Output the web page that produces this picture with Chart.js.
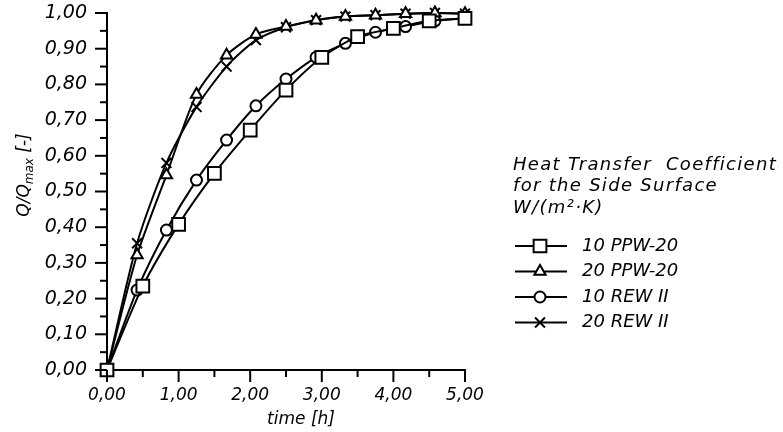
<!DOCTYPE html>
<html>
<head>
<meta charset="utf-8">
<script src="https://cdn.jsdelivr.net/npm/chart.js@4/dist/chart.umd.min.js"></script>
<style>
body { margin: 0; background: #fff; }
</style>
</head>
<body>
<canvas id="heatchart" width="783" height="432"></canvas>
<script>
// time points (h)
const timeFine = [0, 0.42, 0.83, 1.25, 1.67, 2.08, 2.5, 2.92, 3.33, 3.75, 4.17, 4.58, 5]
const timeHalf = [0, 0.5, 1, 1.5, 2, 2.5, 3, 3.5, 4, 4.5, 5]

// Q/Qmax
const ppw10 = [0, 0.235, 0.408, 0.551, 0.672, 0.784, 0.876, 0.934, 0.957, 0.978, 0.985]
const ppw20 = [0, 0.322, 0.546, 0.772, 0.882, 0.94, 0.962, 0.98, 0.99, 0.994, 0.998, 1.0, 0.998]
const rew10 = [0, 0.224, 0.392, 0.532, 0.644, 0.74, 0.815, 0.876, 0.915, 0.946, 0.962, 0.978, 0.985]
const rew20 = [0, 0.355, 0.58, 0.737, 0.85, 0.924, 0.96, 0.98, 0.99, 0.994, 0.998, 1.0, 0.998]

const seriesNames = ['10 PPW-20', '20 PPW-20', '10 REW II', '20 REW II']
const legendTitle = ['Heat Transfer  Coefficient', 'for the Side Surface', 'W/(m²·K)']

const fontFam = "'DejaVu Sans', sans-serif"

function pairs(xs, ys) {
    return xs.map(function (t, i) { return { x: t, y: ys[i] } })
}
function comma(v) {
    return Number(v).toFixed(2).replace('.', ',')
}

function series(label, data, style, radius) {
    return {
        label: label,
        data: data,
        borderColor: '#000',
        borderWidth: 2,
        pointStyle: style,
        pointRadius: radius,
        pointBackgroundColor: '#fff',
        pointBorderColor: '#000',
        pointBorderWidth: 2,
        tension: 0.25,
        clip: false
    }
}

// ticks, axis titles and the legend block on the right
const decor = {
    id: 'decor',
    afterDraw(chart) {
        const ctx = chart.ctx
        const xs = chart.scales.x
        const ys = chart.scales.y
        ctx.save()
        ctx.strokeStyle = '#000'
        ctx.lineWidth = 2
        for (let k = 0; k <= 20; k++) {
            const py = ys.getPixelForValue(k * 0.05)
            const len = k % 2 == 0 ? 12 : 7
            ctx.beginPath()
            ctx.moveTo(ys.right, py)
            ctx.lineTo(ys.right - len, py)
            ctx.stroke()
        }
        for (let k = 0; k <= 10; k++) {
            const px = xs.getPixelForValue(k * 0.5)
            const len = k % 2 == 0 ? 12 : 7
            ctx.beginPath()
            ctx.moveTo(px, xs.top)
            ctx.lineTo(px, xs.top + len)
            ctx.stroke()
        }

        ctx.fillStyle = '#000'
        ctx.textBaseline = 'middle'

        // x title
        ctx.font = 'italic 17px ' + fontFam
        ctx.textAlign = 'center'
        ctx.fillText('time [h]', 301, 420)

        // y title with subscript
        ctx.save()
        ctx.translate(25, 175)
        ctx.rotate(-Math.PI / 2)
        ctx.textAlign = 'left'
        const big = 'italic 17px ' + fontFam
        const small = 'italic 12px ' + fontFam
        ctx.font = big
        const w1 = ctx.measureText('Q/Q').width
        const w3 = ctx.measureText(' [-]').width
        ctx.font = small
        const w2 = ctx.measureText('max').width
        let cx = -(w1 + w2 + w3) / 2
        ctx.font = big
        ctx.fillText('Q/Q', cx, 0)
        cx += w1
        ctx.font = small
        ctx.fillText('max', cx, 5)
        cx += w2
        ctx.font = big
        ctx.fillText(' [-]', cx, 0)
        ctx.restore()

        // legend title
        ctx.textAlign = 'left'
        ctx.font = 'italic 18px ' + fontFam
        if ('letterSpacing' in ctx) ctx.letterSpacing = '1.3px'
        legendTitle.forEach(function (line, i) {
            ctx.fillText(line, 513, 165 + i * 21.5)
        })
        if ('letterSpacing' in ctx) ctx.letterSpacing = '0px'

        // legend rows
        chart.data.datasets.forEach(function (ds, i) {
            const y = 246 + i * 25.5
            ctx.beginPath()
            ctx.moveTo(515, y)
            ctx.lineTo(567, y)
            ctx.stroke()
            ctx.fillStyle = '#fff'
            Chart.helpers.drawPoint(ctx, {
                pointStyle: ds.pointStyle, radius: ds.pointRadius,
                rotation: 0, borderWidth: 2
            }, 540, y)
            ctx.fillStyle = '#000'
            ctx.font = 'italic 18px ' + fontFam
            ctx.fillText(ds.label, 582, y)
        })
        ctx.restore()
    }
}

new Chart(document.getElementById('heatchart'), {
    type: 'line',
    data: {
        datasets: [
            series(seriesNames[0], pairs(timeHalf, ppw10), 'rect', 9),
            series(seriesNames[1], pairs(timeFine, ppw20), 'triangle', 6.5),
            series(seriesNames[2], pairs(timeFine, rew10), 'circle', 5.5),
            series(seriesNames[3], pairs(timeFine, rew20), 'crossRot', 7)
        ]
    },
    options: {
        responsive: false,
        animation: false,
        devicePixelRatio: 1,
        layout: { padding: { top: 13, right: 318, left: 0, bottom: 0 } },
        plugins: { legend: { display: false }, tooltip: { enabled: false } },
        scales: {
            x: {
                type: 'linear',
                min: 0,
                max: 5,
                border: { color: '#000', width: 2 },
                // invisible tick marks only push the labels away from the axis
                grid: { drawOnChartArea: false, tickLength: 15, tickColor: 'rgba(0,0,0,0)' },
                ticks: {
                    stepSize: 1,
                    padding: 0,
                    color: '#000',
                    maxRotation: 0,
                    font: { family: fontFam, size: 17, style: 'italic' },
                    callback: comma
                },
                afterFit: function (s) { s.height = 62 }
            },
            y: {
                min: 0,
                max: 1,
                border: { color: '#000', width: 2 },
                grid: { drawOnChartArea: false, tickLength: 20, tickColor: 'rgba(0,0,0,0)' },
                ticks: {
                    stepSize: 0.1,
                    padding: 0,
                    color: '#000',
                    font: { family: fontFam, size: 19, style: 'italic' },
                    callback: comma
                },
                afterFit: function (s) { s.width = 107 }
            }
        }
    },
    plugins: [decor]
})
</script>
</body>
</html>
